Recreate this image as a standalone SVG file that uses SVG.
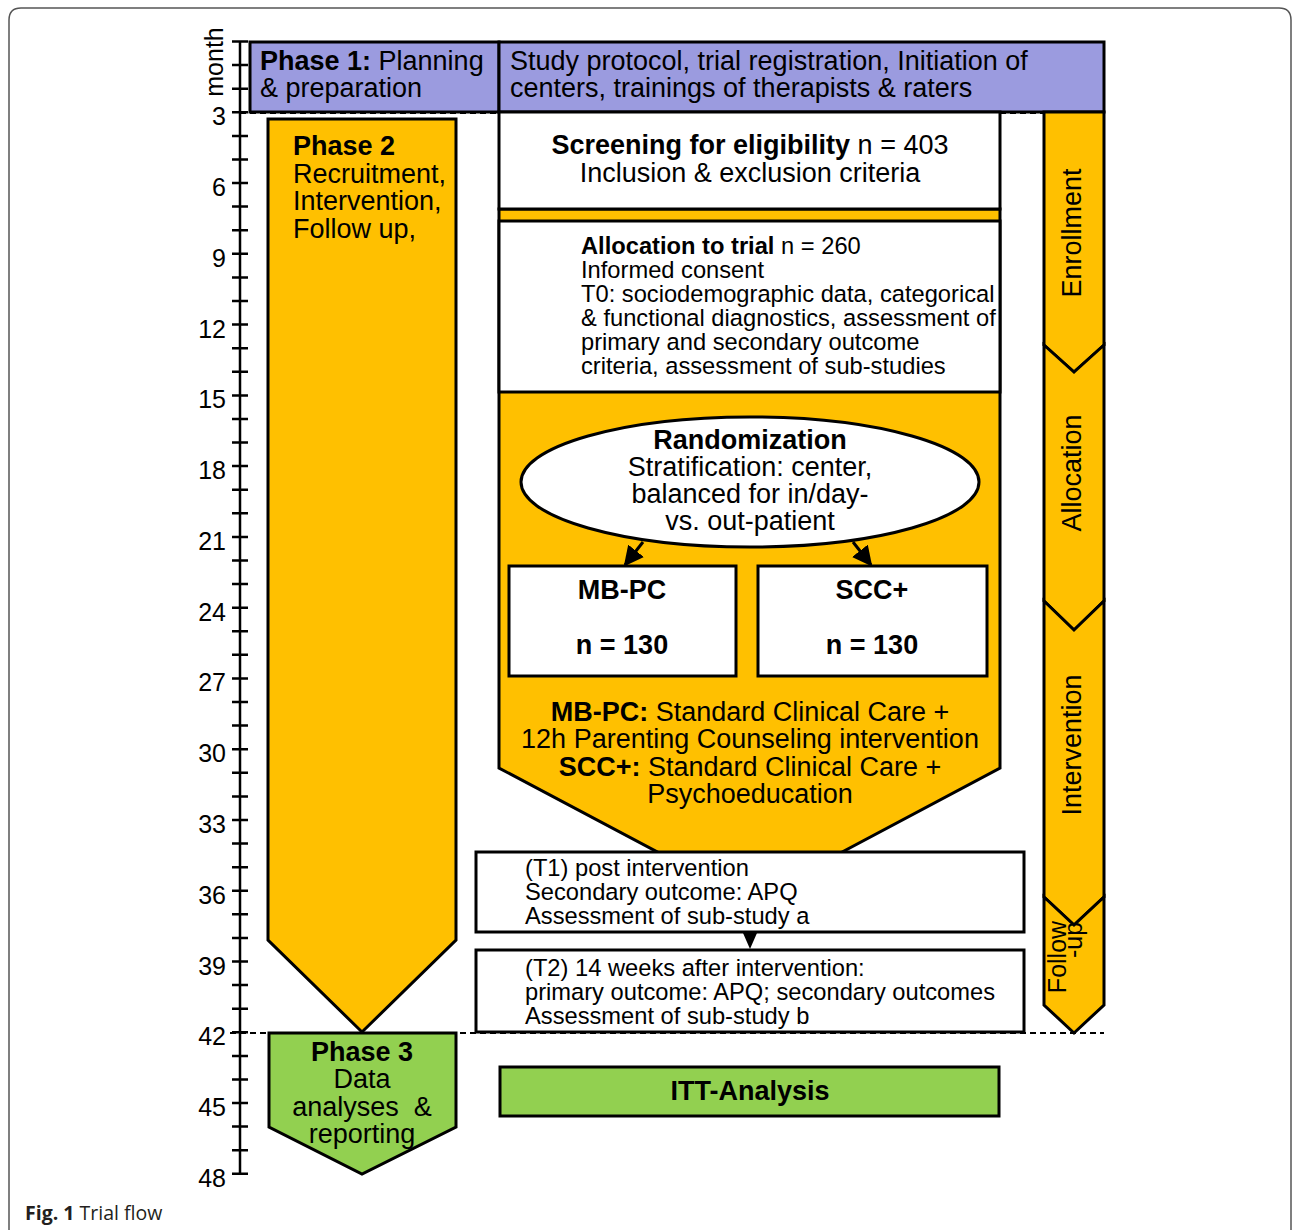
<svg xmlns="http://www.w3.org/2000/svg" width="1292" height="1230" viewBox="0 0 1292 1230">
  <style>
    text { font-family: "Liberation Sans", Arial, Helvetica, sans-serif; fill: #000; }
    .t26 { font-size: 27px; }
    .t25 { font-size: 25px; }
    .t23 { font-size: 23.7px; }
    .b { font-weight: bold; }
    .mid { text-anchor: middle; }
    .end { text-anchor: end; }
    .box { stroke: #000; stroke-width: 3; stroke-linejoin: miter; }
    .white { fill: #fff; }
    .orange { fill: #FFC000; }
    .purple { fill: #9B9BDF; }
    .green { fill: #92D050; }
    .dash { stroke: #000; stroke-width: 1.8; stroke-dasharray: 6 4; fill: none; }
    .axis { stroke: #000; stroke-width: 2.5; fill: none; }
    .conn { stroke: #000; stroke-width: 3; fill: none; }
    .caption { font-family: "Open Sans", "Liberation Sans", sans-serif; font-size: 19.5px; fill: #231f20; }
  </style>
  <defs>
    <marker id="ah" viewBox="0 0 10 10" refX="9" refY="5" markerWidth="20" markerHeight="20" markerUnits="userSpaceOnUse" orient="auto">
      <path d="M0,0 L10,5 L0,10 z" fill="#000"/>
    </marker>
  </defs>

  <!-- figure frame -->
  <path d="M9,1236 V20 Q9,8 21,8 H1279 Q1291,8 1291,20 V1236" fill="none" stroke="#555" stroke-width="1.5"/>

  <!-- month axis -->
  <g id="axis">
    <line class="axis" x1="240" y1="41.5" x2="240" y2="1173.8"/>
    <path class="axis" d="M232,41.5H248 M232,65.1H248 M232,88.7H248 M232,112.3H248 M232,135.9H248 M232,159.5H248 M232,183H248 M232,206.6H248 M232,230.2H248 M232,253.8H248 M232,277.4H248 M232,301H248 M232,324.6H248 M232,348.2H248 M232,371.8H248 M232,395.4H248 M232,418.9H248 M232,442.5H248 M232,466.1H248 M232,489.7H248 M232,513.3H248 M232,536.9H248 M232,560.5H248 M232,584.1H248 M232,607.7H248 M232,631.3H248 M232,654.8H248 M232,678.4H248 M232,702H248 M232,725.6H248 M232,749.2H248 M232,772.8H248 M232,796.4H248 M232,820H248 M232,843.6H248 M232,867.2H248 M232,890.7H248 M232,914.3H248 M232,937.9H248 M232,961.5H248 M232,985.1H248 M232,1008.7H248 M232,1032.3H248 M232,1055.9H248 M232,1079.5H248 M232,1103.1H248 M232,1126.6H248 M232,1150.2H248 M232,1173.8H248"/>
    <text class="t25" transform="translate(223,62) rotate(-90)" text-anchor="middle">month</text>
    <g class="t25">
      <text class="end" x="226" y="125.3">3</text>
      <text class="end" x="226" y="196">6</text>
      <text class="end" x="226" y="266.8">9</text>
      <text class="end" x="226" y="337.6">12</text>
      <text class="end" x="226" y="408.4">15</text>
      <text class="end" x="226" y="479.1">18</text>
      <text class="end" x="226" y="549.9">21</text>
      <text class="end" x="226" y="620.7">24</text>
      <text class="end" x="226" y="691.4">27</text>
      <text class="end" x="226" y="762.2">30</text>
      <text class="end" x="226" y="833">33</text>
      <text class="end" x="226" y="903.7">36</text>
      <text class="end" x="226" y="974.5">39</text>
      <text class="end" x="226" y="1045.3">42</text>
      <text class="end" x="226" y="1116.1">45</text>
      <text class="end" x="226" y="1186.8">48</text>
    </g>
  </g>

  <!-- phase boundaries -->
  <line class="dash" x1="240" y1="113" x2="1044" y2="113"/>
  <line class="dash" x1="230" y1="1033" x2="1104" y2="1033"/>

  <!-- Phase 1 header -->
  <g id="phase1">
    <rect class="box purple" x="250" y="42" width="249" height="70"/>
    <text class="t26" x="260" y="70"><tspan class="b">Phase 1:</tspan> Planning</text>
    <text class="t26" x="260" y="97">&amp; preparation</text>
  </g>
  <g id="preparation">
    <rect class="box purple" x="499" y="42" width="605" height="70"/>
    <text class="t26" x="510" y="70">Study protocol, trial registration, Initiation of</text>
    <text class="t26" x="510" y="97">centers, trainings of therapists &amp; raters</text>
  </g>

  <!-- Phase 2 -->
  <g id="phase2">
    <polygon class="box orange" points="268,119 456,119 456,940 362,1032 268,940"/>
    <text class="t26 b" x="293" y="155">Phase 2</text>
    <text class="t26" x="293" y="183">Recruitment,</text>
    <text class="t26" x="293" y="210">Intervention,</text>
    <text class="t26" x="293" y="238">Follow up,</text>
  </g>

  <!-- Phase 3 -->
  <g id="phase3">
    <polygon class="box green" points="269,1033 456,1033 456,1127 362,1174 269,1127"/>
    <text class="t26 b mid" x="362" y="1061">Phase 3</text>
    <text class="t26 mid" x="362" y="1088">Data</text>
    <text class="t26 mid" x="362" y="1116">analyses&#160; &amp;</text>
    <text class="t26 mid" x="362" y="1143">reporting</text>
  </g>

  <!-- trial arm body -->
  <g id="trial">
    <polygon class="box orange" points="499,209 1000,209 1000,768 750,901 499,768"/>
    <text class="t26 mid" x="750" y="721"><tspan class="b">MB-PC:</tspan> Standard Clinical Care +</text>
    <text class="t26 mid" x="750" y="748">12h Parenting Counseling intervention</text>
    <text class="t26 mid" x="750" y="776"><tspan class="b">SCC+:</tspan> Standard Clinical Care +</text>
    <text class="t26 mid" x="750" y="803">Psychoeducation</text>
  </g>

  <g id="screening">
    <rect class="box white" x="499" y="112" width="501" height="97"/>
    <text class="t26 mid" x="750" y="154"><tspan class="b">Screening for eligibility</tspan> n = 403</text>
    <text class="t26 mid" x="750" y="182">Inclusion &amp; exclusion criteria</text>
  </g>

  <g id="allocation">
    <rect class="box white" x="499" y="221" width="501" height="171"/>
    <text class="t23" x="581" y="253.5"><tspan class="b">Allocation to trial</tspan> n = 260</text>
    <text class="t23" x="581" y="277.5">Informed consent</text>
    <text class="t23" x="581" y="302">T0: sociodemographic data, categorical</text>
    <text class="t23" x="581" y="326">&amp; functional diagnostics, assessment of</text>
    <text class="t23" x="581" y="350">primary and secondary outcome</text>
    <text class="t23" x="581" y="374">criteria, assessment of sub-studies</text>
  </g>

  <g id="randomization">
    <ellipse class="box white" cx="750" cy="482" rx="229" ry="65"/>
    <text class="t26 b mid" x="750" y="449">Randomization</text>
    <text class="t26 mid" x="750" y="476">Stratification: center,</text>
    <text class="t26 mid" x="750" y="503">balanced for in/day-</text>
    <text class="t26 mid" x="750" y="530">vs. out-patient</text>
  </g>

  <g id="mbpc">
    <rect class="box white" x="509" y="566" width="227" height="110"/>
    <text class="t26 b mid" x="622" y="599">MB-PC</text>
    <text class="t26 b mid" x="622" y="654">n = 130</text>
  </g>

  <g id="sccplus">
    <rect class="box white" x="758" y="566" width="229" height="110"/>
    <text class="t26 b mid" x="872" y="599">SCC+</text>
    <text class="t26 b mid" x="872" y="654">n = 130</text>
  </g>

  <g id="t1">
    <rect class="box white" x="476" y="852" width="548" height="80"/>
    <text class="t23" x="525" y="875.5">(T1) post intervention</text>
    <text class="t23" x="525" y="899.5">Secondary outcome: APQ</text>
    <text class="t23" x="525" y="923.5">Assessment of sub-study a</text>
  </g>

  <g id="t2">
    <rect class="box white" x="476" y="950" width="548" height="82"/>
    <text class="t23" x="525" y="975.5">(T2) 14 weeks after intervention:</text>
    <text class="t23" x="525" y="999.5">primary outcome: APQ; secondary outcomes</text>
    <text class="t23" x="525" y="1023.5">Assessment of sub-study b</text>
  </g>

  <g id="itt">
    <rect class="box green" x="500" y="1067" width="499" height="49"/>
    <text class="t26 b mid" x="750" y="1100">ITT-Analysis</text>
  </g>

  <!-- stage chevrons -->
  <g id="enrollment">
    <polygon class="box orange" points="1044,112 1104,112 1104,345 1074,372 1044,345"/>
    <text class="t26 mid" transform="translate(1081,233) rotate(-90)">Enrollment</text>
  </g>
  <g id="allocation-stage">
    <polygon class="box orange" points="1044,345 1074,372 1104,345 1104,601 1074,630 1044,601"/>
    <text class="t26 mid" transform="translate(1081,473) rotate(-90)">Allocation</text>
  </g>
  <g id="intervention">
    <polygon class="box orange" points="1044,601 1074,630 1104,601 1104,897 1074,925 1044,897"/>
    <text class="t26 mid" transform="translate(1081,745) rotate(-90)">Intervention</text>
  </g>
  <g id="followup">
    <polygon class="box orange" points="1044,897 1074,925 1104,897 1104,1005 1074,1033 1044,1005"/>
    <text class="t25 mid" transform="translate(1066,957) rotate(-90)">Follow</text>
    <text class="t25 mid" transform="translate(1082,940) rotate(-90)">-up</text>
  </g>

  <!-- connectors -->
  <g id="connectors">
    <line class="conn" x1="643" y1="542" x2="625" y2="565" marker-end="url(#ah)"/>
    <line class="conn" x1="853" y1="542" x2="871" y2="565" marker-end="url(#ah)"/>
    <polygon points="743,933 757,933 750,949" fill="#000"/>
  </g>

  <text class="caption" x="25" y="1220"><tspan font-weight="bold">Fig. 1</tspan> Trial flow</text>
</svg>
